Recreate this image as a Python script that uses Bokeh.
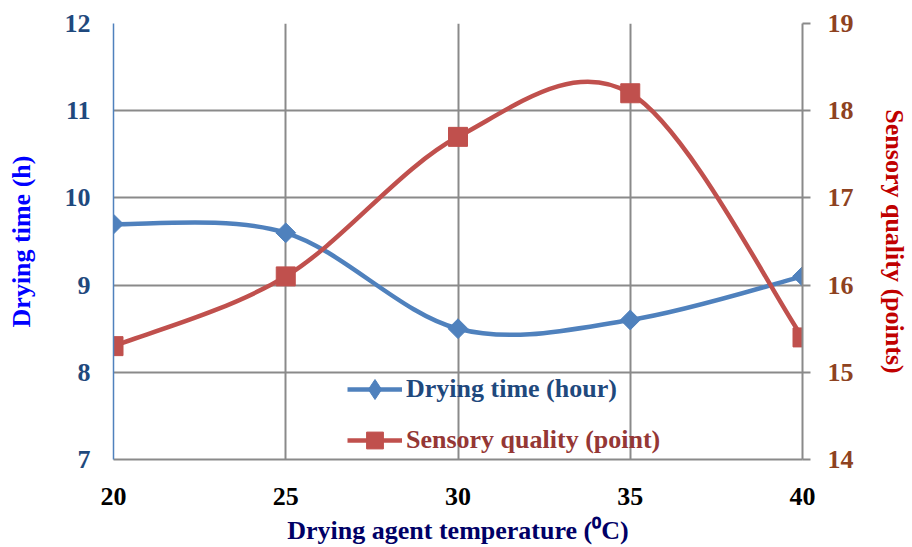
import numpy as np
from bokeh.plotting import figure
from bokeh.models import Range1d, LinearAxis, FixedTicker, Legend, LegendItem
from bokeh.embed import file_html
from bokeh.resources import INLINE

# ---- data ----
temps = [20, 25, 30, 35, 40]
drying_time = [9.7, 9.6, 8.5, 8.6, 9.1]
sensory = [15.3, 16.1, 17.7, 18.2, 15.4]
x_ticks = [20, 25, 30, 35, 40]
left_ticks = [7, 8, 9, 10, 11, 12]
right_ticks = [14, 15, 16, 17, 18, 19]

BLUE = "#4F81BD"
RED = "#C0504D"
FONT = "Liberation Serif"


def smooth_segments(xs, ys):
    xs = np.asarray(xs, float)
    ys = np.asarray(ys, float)
    n = len(xs)
    out = dict(x0=[], y0=[], x1=[], y1=[], cx0=[], cy0=[], cx1=[], cy1=[])
    for i in range(n - 1):
        ip = max(i - 1, 0)
        inx = min(i + 2, n - 1)
        out["x0"].append(xs[i]); out["y0"].append(ys[i])
        out["x1"].append(xs[i + 1]); out["y1"].append(ys[i + 1])
        out["cx0"].append(xs[i] + (xs[i + 1] - xs[ip]) / 6)
        out["cy0"].append(ys[i] + (ys[i + 1] - ys[ip]) / 6)
        out["cx1"].append(xs[i + 1] - (xs[inx] - xs[i]) / 6)
        out["cy1"].append(ys[i + 1] - (ys[inx] - ys[i]) / 6)
    return out


p = figure(width=912, height=547, output_backend="svg", toolbar_location=None,
           x_range=Range1d(20, 40), y_range=Range1d(7, 12),
           min_border_left=113, min_border_right=110, min_border_top=23,
           min_border_bottom=88)
p.outline_line_color = None
p.extra_y_ranges = {"right": Range1d(14, 19)}

# grids
p.xgrid.ticker = FixedTicker(ticks=x_ticks)
p.ygrid.ticker = FixedTicker(ticks=left_ticks)
for g in (p.xgrid, p.ygrid):
    g.grid_line_color = "#8a8a8a"
    g.grid_line_width = 2


def style_labels(ax, color, standoff):
    ax.major_label_standoff = standoff
    ax.major_label_text_font = FONT
    ax.major_label_text_font_style = "bold"
    ax.major_label_text_font_size = "26px"
    ax.major_label_text_color = color
    ax.minor_tick_line_color = None
    ax.axis_label_text_font = FONT
    ax.axis_label_text_font_style = "bold"
    ax.axis_label_text_font_size = "26px"


xa = p.xaxis[0]
xa.ticker = FixedTicker(ticks=x_ticks)
xa.axis_line_color = "#8a8a8a"
xa.axis_line_width = 2
xa.major_tick_out = 0
xa.major_tick_in = 0
style_labels(xa, "black", 28)
xa.axis_label = "Drying agent temperature (\u2070C)"
xa.axis_label_text_color = "#000066"
xa.axis_label_standoff = 8

ya = p.yaxis[0]
ya.ticker = FixedTicker(ticks=left_ticks)
ya.axis_line_color = BLUE
ya.axis_line_width = 1.5
ya.major_tick_out = 0
ya.major_tick_in = 0
style_labels(ya, "#1F497D", 23)
ya.axis_label = "Drying time (h)"
ya.axis_label_text_color = "#0000FF"
ya.axis_label_standoff = 26

ra = LinearAxis(y_range_name="right", ticker=FixedTicker(ticks=right_ticks))
ra.axis_line_color = "#8a8a8a"
ra.axis_line_width = 2
ra.major_tick_line_color = "#8a8a8a"
ra.major_tick_line_width = 2
ra.major_tick_out = 8
ra.major_tick_in = 0
style_labels(ra, "#8E4220", 17)
ra.axis_label = "Sensory quality (points)"
ra.axis_label_text_color = "#C00000"
ra.axis_label_standoff = 23
p.add_layout(ra, "right")

# curves
bseg = smooth_segments(temps, drying_time)
p.bezier(x0=bseg["x0"], y0=bseg["y0"], x1=bseg["x1"], y1=bseg["y1"],
         cx0=bseg["cx0"], cy0=bseg["cy0"], cx1=bseg["cx1"], cy1=bseg["cy1"],
         line_color=BLUE, line_width=4.5)
rseg = smooth_segments(temps, sensory)
p.bezier(x0=rseg["x0"], y0=rseg["y0"], x1=rseg["x1"], y1=rseg["y1"],
         cx0=rseg["cx0"], cy0=rseg["cy0"], cx1=rseg["cx1"], cy1=rseg["cy1"],
         line_color=RED, line_width=4.5, y_range_name="right")

p.scatter(temps, drying_time, marker="square", angle=np.pi / 4, size=14,
          fill_color=BLUE, line_color=BLUE)
p.scatter(temps, sensory, marker="square", size=19,
          fill_color=RED, line_color=RED, y_range_name="right")

# legend-only renderers (no visible data)
nan = [float("nan")]
l1 = p.line(x=nan, y=nan, line_color=BLUE, line_width=4.5)
m1 = p.scatter(x=nan, y=nan, marker="diamond", fill_color=BLUE, line_color=BLUE)
l2 = p.line(x=nan, y=nan, line_color=RED, line_width=4.5, y_range_name="right")
m2 = p.scatter(x=nan, y=nan, marker="square", fill_color=RED, line_color=RED,
               y_range_name="right")


def make_legend(label, rends, loc, color, gh):
    lg = Legend(items=[LegendItem(label=label, renderers=rends)], location=loc,
                glyph_width=55, glyph_height=gh, label_standoff=4, padding=0,
                margin=0, spacing=0, background_fill_alpha=0, border_line_alpha=0,
                label_text_font=FONT, label_text_font_style="bold",
                label_text_font_size="26px", label_text_color=color)
    p.add_layout(lg)


make_legend("Drying time (hour)", [l1, m1], (234, 45), "#1F497D", 50)
make_legend("Sensory quality (point)", [l2, m2], (234, -2), "#953735", 42)

open("out.html", "w").write(file_html(p, INLINE))
